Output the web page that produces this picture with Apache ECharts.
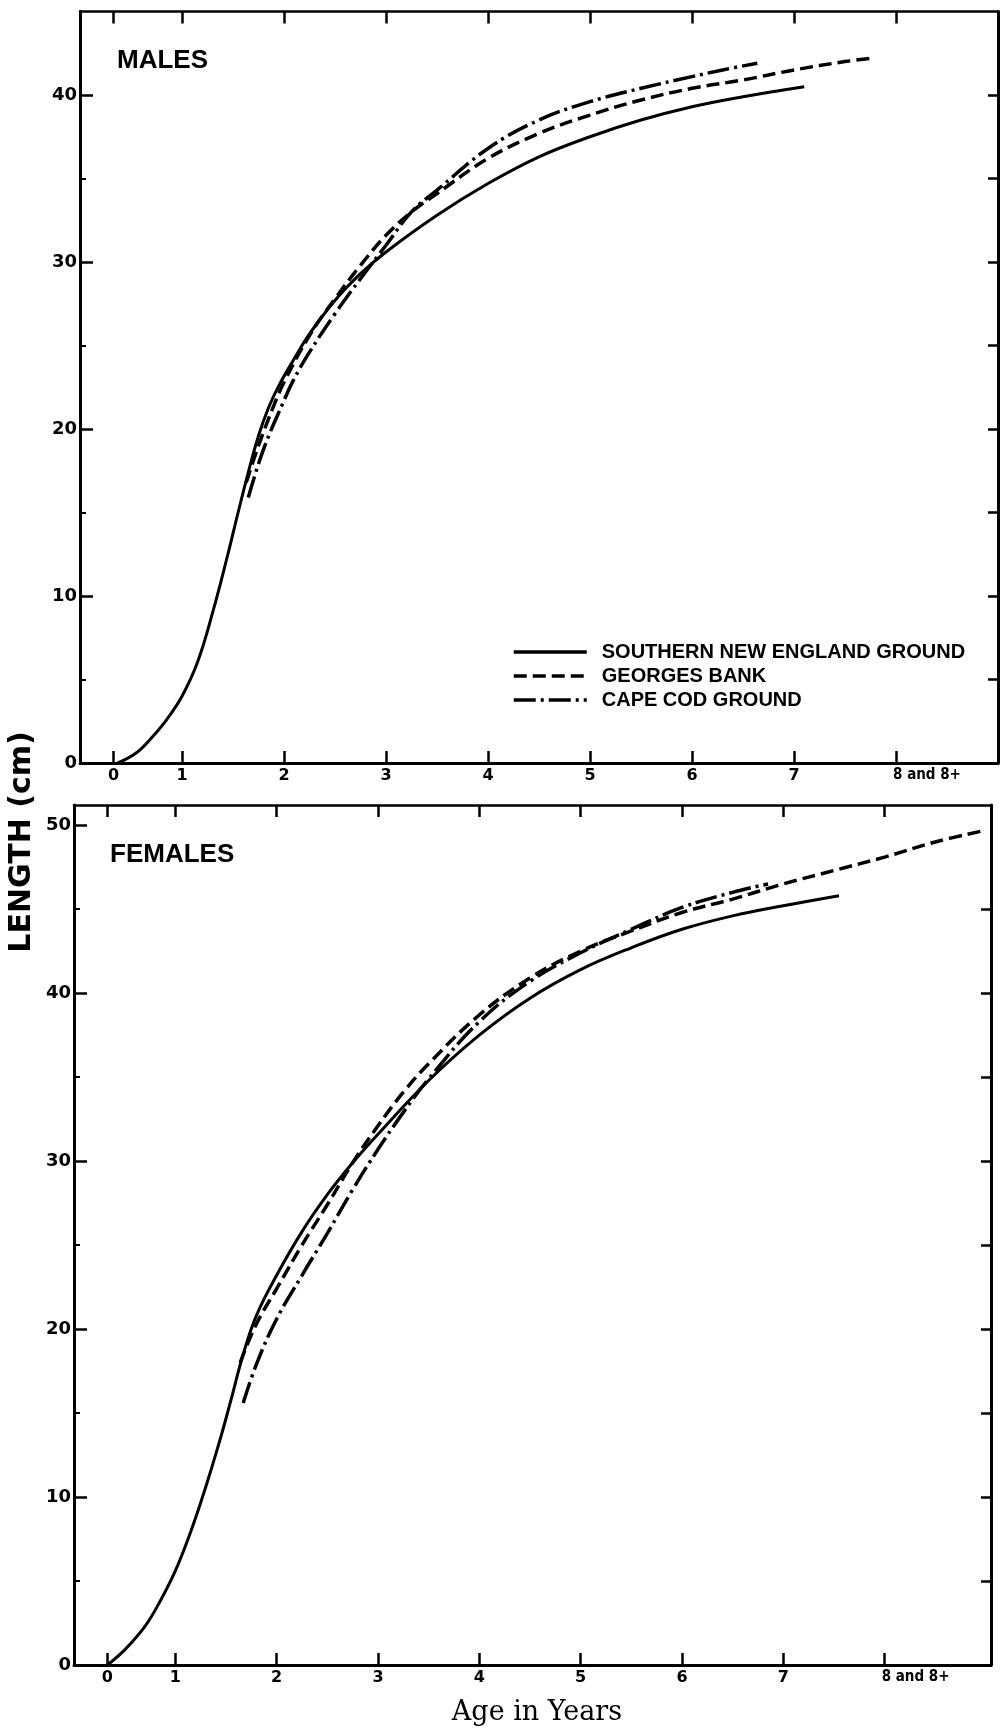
<!DOCTYPE html>
<html>
<head>
<meta charset="utf-8">
<script src="https://cdn.jsdelivr.net/npm/echarts@6/dist/echarts.min.js"></script>
<style>
html,body{margin:0;padding:0;background:#fff;}
#chart{width:1003px;height:1731px;}
</style>
</head>
<body>
<div id="chart"></div>
<script>
// Age axis: "0" tick sits closer to 1 than the other year spacing
const ageTicks = [0.33, 1, 2, 3, 4, 5, 6, 7, 8];
const ageTickLabels = ['0', '1', '2', '3', '4', '5', '6', '7', '8 and 8+'];

const seriesNames = ['SOUTHERN NEW ENGLAND GROUND', 'GEORGES BANK', 'CAPE COD GROUND'];

const maleMajorTicks = [0, 10, 20, 30, 40];
const maleMinorTicks = [5, 15, 25, 35];
const maleRightTicks = [5, 10, 15, 20, 25, 30, 35, 40];
const femaleMajorTicks = [0, 10, 20, 30, 40, 50];
const femaleMinorTicks = [5, 15, 25, 35, 45];
const femaleRightTicks = [5, 10, 15, 20, 25, 30, 35, 40, 45];

// MALES (age in years, length in cm)
const maleSNE = [[0.37,0],[0.55,0.6],[0.7,1.5],[0.85,2.6],[1.0,4.0],[1.15,6.0],[1.3,9.0],[1.45,12.5],[1.55,15.0],[1.65,17.4],[1.75,19.6],[1.85,21.3],[1.95,22.6],[2.1,24.2],[2.25,25.7],[2.5,27.7],[2.75,29.3],[3.0,30.6],[3.5,32.8],[4.0,34.7],[4.5,36.3],[5.0,37.5],[5.5,38.5],[6.0,39.3],[6.5,39.9],[7.1,40.5]];
const maleGB = [[1.63,16.8],[1.75,19.0],[1.9,21.4],[2.0,22.8],[2.25,25.6],[2.5,27.8],[2.75,29.8],[3.0,31.6],[3.25,33.0],[3.5,34.1],[4.0,36.2],[4.5,37.7],[5.0,38.8],[5.5,39.7],[6.0,40.4],[6.5,40.9],[7.0,41.5],[7.5,42.0],[7.77,42.2]];
const maleCC = [[1.65,15.9],[1.8,18.8],[2.0,21.7],[2.09,22.9],[2.25,24.6],[2.5,26.9],[2.75,29.0],[3.0,31.0],[3.25,33.0],[3.5,34.3],[4.0,36.8],[4.5,38.5],[5.0,39.6],[5.5,40.4],[6.0,41.1],[6.3,41.5],[6.64,41.9]];

// FEMALES
const femaleSNE = [[0.33,0],[0.5,0.9],[0.7,2.3],[0.85,3.8],[1.0,5.6],[1.15,7.9],[1.3,10.6],[1.45,13.6],[1.55,15.8],[1.67,18.5],[1.8,20.8],[2.0,23.2],[2.25,25.8],[2.5,28.0],[2.75,29.9],[3.0,31.6],[3.5,34.8],[4.0,37.5],[4.5,39.7],[5.0,41.4],[5.5,42.7],[6.0,43.8],[6.5,44.6],[7.0,45.2],[7.55,45.8]];
const femaleGB = [[1.64,18.0],[1.8,20.3],[2.0,22.4],[2.25,25.0],[2.5,27.4],[2.75,29.9],[3.0,32.1],[3.25,34.1],[3.5,35.8],[4.0,38.7],[4.5,40.9],[5.0,42.5],[5.5,43.7],[6.0,44.8],[6.5,45.6],[7.0,46.5],[7.5,47.3],[8.0,48.1],[8.5,49.0],[9.0,49.7]];
const femaleCC = [[1.67,15.6],[1.8,17.9],[2.0,20.6],[2.25,23.2],[2.5,25.7],[2.75,28.3],[3.0,30.7],[3.25,32.9],[3.5,34.9],[4.0,38.3],[4.5,40.7],[5.0,42.4],[5.5,43.8],[6.0,45.1],[6.5,46.0],[6.85,46.5]];

const lineTypes = ['solid', [13, 6], [22, 5, 3, 5]];

const chart = echarts.init(document.getElementById('chart'), null, {renderer: 'canvas'});

const axisLineStyle = {color: '#000', width: 3};
const baseFont = 'DejaVu Sans';

function ageLabel(v) {
  for (let i = 0; i < ageTicks.length; i++) {
    if (Math.abs(ageTicks[i] - v) < 1e-6) {
      return i === ageTicks.length - 1 ? '{e|' + ageTickLabels[i] + '}' : ageTickLabels[i];
    }
  }
  return '';
}

function xAxes(gridIndex, max) {
  return [
    {
      type: 'value', gridIndex: gridIndex, position: 'bottom', min: 0, max: max,
      splitLine: {show: false},
      axisLine: {show: true, onZero: false, lineStyle: axisLineStyle},
      axisTick: {show: true, inside: true, length: 12, customValues: ageTicks, lineStyle: {color: '#000', width: 2.5}},
      axisLabel: {
        show: true, customValues: ageTicks, formatter: ageLabel, margin: 5,
        color: '#000', fontFamily: baseFont, fontWeight: 'bold', fontSize: 16,
        rich: {e: {fontSize: 15, fontWeight: 'bold', fontFamily: 'DejaVu Sans Condensed', color: '#000', padding: [0, 0, 0, 62]}}
      }
    },
    {
      type: 'value', gridIndex: gridIndex, position: 'top', min: 0, max: max,
      splitLine: {show: false},
      axisLine: {show: true, onZero: false, lineStyle: {color: '#000', width: 2.5}},
      axisTick: {show: true, inside: true, length: 12, customValues: ageTicks, lineStyle: {color: '#000', width: 2.5}},
      axisLabel: {show: false}
    }
  ];
}

function yAxes(gridIndex, max, major, minor, right) {
  return [
    {
      type: 'value', gridIndex: gridIndex, position: 'left', min: 0, max: max,
      splitLine: {show: false},
      axisLine: {show: true, onZero: false, lineStyle: axisLineStyle},
      axisTick: {show: true, inside: true, length: 13, customValues: major, lineStyle: {color: '#000', width: 2.5}},
      axisLabel: {show: true, customValues: major, margin: 3, color: '#000', fontFamily: baseFont, fontWeight: 'bold', fontSize: 18}
    },
    {
      type: 'value', gridIndex: gridIndex, position: 'left', min: 0, max: max,
      splitLine: {show: false},
      axisLine: {show: false},
      axisTick: {show: true, inside: true, length: 6, customValues: minor, lineStyle: {color: '#000', width: 2}},
      axisLabel: {show: false}
    },
    {
      type: 'value', gridIndex: gridIndex, position: 'right', min: 0, max: max,
      splitLine: {show: false},
      axisLine: {show: true, onZero: false, lineStyle: axisLineStyle},
      axisTick: {show: true, inside: true, length: 10, customValues: right, lineStyle: {color: '#000', width: 2.5}},
      axisLabel: {show: false}
    }
  ];
}

function makeSeries(name, data, typeIdx, xi, yi) {
  return {
    type: 'line', name: name, data: data, xAxisIndex: xi, yAxisIndex: yi,
    showSymbol: false, symbol: 'none', smooth: 0.4,
    lineStyle: {color: '#000', width: typeIdx === 0 ? 3 : 3.5, type: lineTypes[typeIdx], cap: 'butt'},
    itemStyle: {color: '#000'},
    z: 5
  };
}

const MALE_MAX_X = 9.0, FEMALE_MAX_X = 9.05;
const MALE_MAX_Y = 45, FEMALE_MAX_Y = 51.2;

const option = {
  backgroundColor: '#fff',
  animation: false,
  grid: [
    {left: 80, top: 11.5, width: 918, height: 751.5},
    {left: 74, top: 805, width: 917, height: 860}
  ],
  xAxis: [].concat(xAxes(0, MALE_MAX_X), xAxes(1, FEMALE_MAX_X)),
  yAxis: [].concat(
    yAxes(0, MALE_MAX_Y, maleMajorTicks, maleMinorTicks, maleRightTicks),
    yAxes(1, FEMALE_MAX_Y, femaleMajorTicks, femaleMinorTicks, femaleRightTicks)
  ),
  legend: {
    data: seriesNames,
    orient: 'vertical',
    left: 507, top: 637,
    itemWidth: 73, itemHeight: 14, itemGap: 4,
    selectedMode: false,
    itemStyle: {opacity: 0, color: 'rgba(0,0,0,0)', borderWidth: 0},
    lineStyle: {width: 3.5, color: '#000'},
    textStyle: {color: '#000', fontFamily: 'Liberation Sans', fontWeight: 'bold', fontSize: 20, padding: [0, 0, 0, 10]}
  },
  series: [
    makeSeries(seriesNames[0], maleSNE, 0, 0, 0),
    makeSeries(seriesNames[1], maleGB, 1, 0, 0),
    makeSeries(seriesNames[2], maleCC, 2, 0, 0),
    makeSeries(seriesNames[0], femaleSNE, 0, 2, 3),
    makeSeries(seriesNames[1], femaleGB, 1, 2, 3),
    makeSeries(seriesNames[2], femaleCC, 2, 2, 3)
  ],
  graphic: [
    {type: 'text', left: 117, top: 48, style: {text: 'MALES', fill: '#000', font: 'bold 26px "Liberation Sans"'}},
    {type: 'text', left: 110, top: 842, style: {text: 'FEMALES', fill: '#000', font: 'bold 26px "Liberation Sans"'}},
    {type: 'text', x: 22, y: 842, rotation: Math.PI / 2,
     style: {text: 'LENGTH (cm)', fill: '#000', font: 'bold 30px "DejaVu Sans"', align: 'center', verticalAlign: 'middle'}},
    {type: 'text', x: 537, y: 1713,
     style: {text: 'Age in Years', fill: '#000', font: '27px "DejaVu Serif"', align: 'center', verticalAlign: 'middle'}}
  ]
};

chart.setOption(option);
</script>
</body>
</html>
